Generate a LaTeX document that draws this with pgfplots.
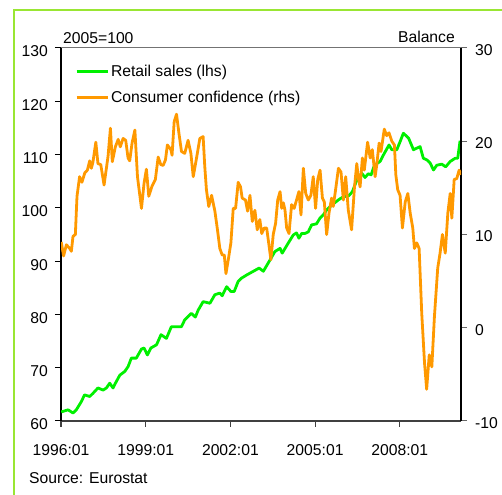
\documentclass[border=0pt]{standalone}
\usepackage{fontspec}
\setmainfont{Liberation Sans}
\usepackage{pgfplots}
\pgfplotsset{compat=1.18}
\definecolor{rsgreen}{RGB}{0,240,0}
\definecolor{ccorange}{RGB}{255,153,0}
\definecolor{framegreen}{RGB}{153,230,51}
\newcommand{\chartfont}{\fontsize{15.7bp}{18bp}\selectfont}

\pgfplotstableread{
m v
0.1 61.7
3 62.1
5.1 61.5
6.5 62.1
8.6 63.6
10 64.9
12.2 64.6
13.6 65.2
15.7 66.2
17.9 65.8
19.3 66.2
20.7 67.1
22.1 66.2
23.5 67.4
25 68.6
27.1 69.3
28.5 70.2
29.9 71.8
32 71.8
34.2 73.5
35.3 73.7
36.7 72.4
38.2 73.7
40.6 74.3
42.5 76.2
44.8 75.5
46.9 77.7
51.2 77.7
52.6 79
55.4 80.2
57.1 79.5
58.3 80.8
60.4 82.4
63.3 82.1
65.4 83.7
67.5 84
68.5 83.5
70.4 85.2
72.2 84.3
73.6 84.3
75.3 86.2
76.7 86.8
78.9 87.4
84.2 88.7
86 88.1
88.8 90.2
90.9 91.8
93.1 92.4
94 91.5
96.6 93.4
98.7 94.9
100.1 95.3
101.1 94.3
102.3 95.2
103.7 95.2
105.1 95.5
106.5 96.8
108.6 97
110.1 98.1
111.5 98.7
112.9 99.6
114.3 100.2
116.2 100.9
117.9 101.5
120 102.1
122.1 102.2
123.8 103
125.7 105.2
127.8 106.5
129.2 105.7
130.6 106.4
131.8 106.2
133.2 108
134.6 108.4
135.6 108.7
137 109.9
139.4 111.8
140.6 110.9
142.7 110.9
144.1 112.4
145.5 114
147.7 113.1
149.8 110.9
151.2 111.2
152.6 111.5
154 109.3
155.5 109
156.9 108.4
158.3 107.1
159.7 108
161.8 108.2
163.5 107.7
165.4 108.7
167.5 109.3
168.6 109.3
169.6 112.6
}\retail

\pgfplotstableread{
m v
0.1 9.2
1.1 7.7
2.3 8.9
3.7 8.5
4.4 8.2
5.1 9.8
6.1 10
6.8 14.1
7.9 16.2
8.9 15.6
10.1 16.6
11.2 16.9
12.2 17.9
12.9 17.1
13.6 17.8
14.8 19.9
15.7 17.6
16.9 17.5
18.3 15.3
20 18.4
21 21.4
21.8 17.8
23.1 19.4
24.3 20.2
25.2 19.4
26.4 20.3
27.5 20.1
28.5 18.2
29.2 17.9
30.2 19.8
31.4 21.2
32.5 16.2
34.2 12.8
35.3 15.5
36.3 17
37.3 14.1
38.7 15.2
40.1 15.9
41.3 18.3
42.4 17.5
43.4 17.4
44.4 18
45.2 19.6
46.7 19.1
47.2 18.5
48.1 22.1
49.1 22.9
50.1 20.9
51.2 18.9
52.6 18.7
54 20.1
55.2 18.7
56.2 16.2
57.6 18.2
59 20.3
60.4 20.5
61.1 17.3
61.8 14.8
62.8 13
64 14.2
65.4 12.5
66.5 10.5
67.5 8.5
68.5 7.8
69.4 7.8
70.1 5.8
71.1 7.3
72.2 9.1
73.2 12.8
74.2 12.8
75.3 15.6
76.3 15.1
77 13.9
78.4 13.7
79.3 12.5
80.3 14.2
81.3 11.4
82.4 12.6
83.4 10.5
84.5 11.6
85.3 10.1
86.4 10.7
87.4 10.7
88.1 9.4
89.2 7.3
90.2 10
91.2 11.2
92.1 13.7
93.1 14.6
93.8 12.8
94.5 13.4
95.2 12.6
95.9 10.7
96.9 10.1
98 13.2
99.1 12.8
100.1 13.7
101.1 14.6
102 12.1
103 17.1
104 14.4
105.1 13.7
106.2 14.2
107.2 16.2
108.2 12.8
109.1 15.9
110.1 16.9
111.1 13.9
111.9 13.5
112.9 10
113.9 12.3
115 13.9
115.7 13
116.7 14.8
117.9 17.1
119 16.7
120 13.7
121 16.2
122.1 12.6
123.5 10.5
124.7 15
125.7 17.6
126.4 16.0
127.1 15.1
128.1 18.2
128.9 16.9
130.3 19.9
131.4 18.2
132.3 19.1
133.5 16.2
134.2 17.5
135.2 19.8
136 18.9
137.4 21.3
138.4 20.6
139.4 20.9
140.6 20
141.7 19.6
142.3 16.4
143.1 14.8
144.1 14.2
145.1 10.7
146.3 13.5
147.4 14.4
148.4 12.3
149.5 10.7
150.2 8.5
151.2 9.1
152.2 8.5
153.3 1.6
154.5 -3.8
155.4 -6.6
156.5 -2.9
157.6 -4.2
158.7 1.2
160.1 6.4
161.1 8
162.1 10
163.3 8
164.4 12.3
165.4 14.4
166.1 11.75
167.1 15.9
168.2 16
169.2 16.9
170 16.4
}\confidence

\begin{document}
\begin{tikzpicture}[x=1bp,y=1bp]
\path[use as bounding box] (0,0) rectangle (502,495);
\draw[framegreen, line width=2.5bp] (14,-5) -- (14,485) -- (510,485);

\begin{axis}[
  at={(61bp,74bp)}, anchor=south west,
  scale only axis, width=400bp, height=373bp,
  xmin=0, xmax=170, ymin=60, ymax=130,
  axis x line*=bottom, axis y line*=left,
  x axis line style={-, line width=2bp, color=black!75},
  y axis line style={-, line width=1.2bp, color=black},
  xtick={0,36,72,108,144},
  xticklabels={1996:01,1999:01,2002:01,2005:01,2008:01},
  ytick={60,70,...,130},
  tick align=outside, major tick length=6bp,
  xtick style={line width=1.2bp, color=black!75},
  ytick style={line width=1bp, color=black},
  ticklabel style={font=\chartfont},
  /pgf/number format/assume math mode=true,
  xticklabel style={anchor=north, inner sep=0pt, yshift=-17bp},
  yticklabel style={anchor=east, inner sep=0pt, xshift=-7bp, yshift=-3.5bp},
]
\addplot[rsgreen, line width=2.8bp, line join=round] table[x=m, y=v] {\retail};
\end{axis}

\begin{axis}[
  at={(61bp,74bp)}, anchor=south west,
  scale only axis, width=400bp, height=373bp,
  xmin=0, xmax=170, ymin=-10, ymax=30,
  axis x line*=top, axis y line*=right,
  x axis line style={-, line width=1bp, color=black!55},
  y axis line style={-, line width=1.2bp, color=black},
  xtick=\empty,
  ytick={-10,0,...,30},
  tick align=outside, major tick length=6bp,
  ytick style={line width=1bp, color=black!60},
  ticklabel style={font=\chartfont},
  /pgf/number format/assume math mode=true,
  yticklabel style={anchor=west, inner sep=0pt, xshift=8bp, yshift=-2bp},
  legend style={draw=none, fill=none, at={(0.035,0.955)}, anchor=north west,
    inner sep=0pt, font=\chartfont, row sep=13.5bp, column sep=2bp,
    nodes={inner sep=0pt}},
  legend cell align=left,
  legend image code/.code={\draw[#1] (0bp,0bp) -- (31bp,0bp);},
]
\addlegendimage{rsgreen, line width=2.8bp}
\addlegendentry{Retail sales (lhs)}
\addplot[ccorange, line width=2.8bp, line join=round] table[x=m, y=v] {\confidence};
\addlegendentry{Consumer confidence (rhs)}
\end{axis}

\node[anchor=base west, font=\chartfont, inner sep=0pt] at (63,451.5) {2005=100};
\node[anchor=base east, font=\chartfont, inner sep=0pt] at (455,452.5) {Balance};
\node[anchor=base west, font=\chartfont, inner sep=0pt] at (29,11.5) {Source: Eurostat};
\end{tikzpicture}
\end{document}
